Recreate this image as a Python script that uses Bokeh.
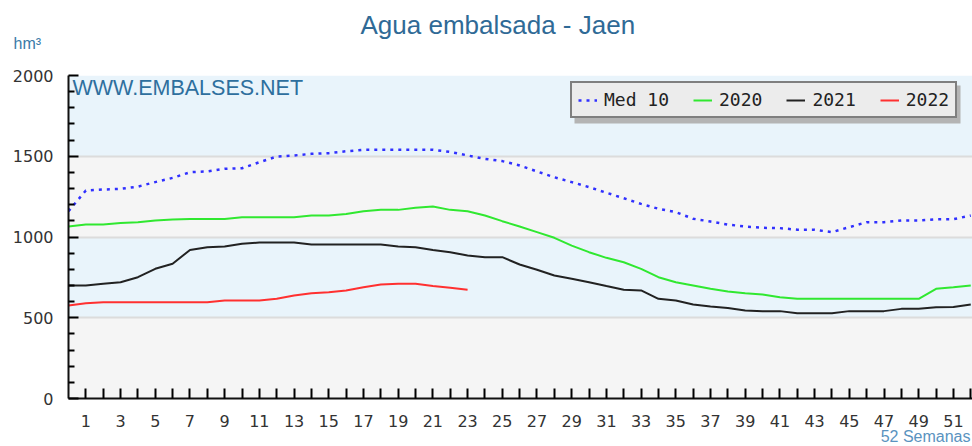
from bokeh.plotting import figure
from bokeh.models import (FixedTicker, BoxAnnotation, Label, Legend, LegendItem, Range1d, Title)
from bokeh.embed import file_html
from bokeh.resources import INLINE

# ---- data ----
weeks = list(range(0, 53))
med10 = [1160, 1288, 1294, 1298, 1312, 1340, 1366, 1401, 1406, 1422, 1426, 1463, 1498,
         1505, 1515, 1519, 1531, 1540, 1540, 1540, 1540, 1540, 1527, 1505, 1484, 1470,
         1443, 1406, 1370, 1340, 1309, 1274, 1240, 1205, 1175, 1154, 1113, 1096, 1077,
         1065, 1057, 1055, 1045, 1045, 1030, 1061, 1092, 1092, 1102, 1102, 1110, 1110, 1133]
y2020 = [1065, 1077, 1077, 1086, 1092, 1102, 1108, 1112, 1112, 1112, 1123, 1123, 1123,
         1123, 1133, 1133, 1143, 1160, 1168, 1168, 1181, 1189, 1168, 1160, 1133, 1098,
         1065, 1030, 995, 947, 906, 871, 844, 803, 751, 720, 700, 679, 663, 652, 644,
         627, 617, 617, 617, 617, 617, 617, 617, 617, 679, 689, 700]
y2021 = [700, 700, 710, 720, 751, 803, 834, 920, 937, 941, 958, 966, 966, 966, 954, 954,
         954, 954, 954, 941, 937, 920, 906, 885, 875, 875, 830, 797, 762, 741, 720, 696,
         673, 669, 617, 607, 582, 570, 561, 545, 541, 541, 528, 528, 528, 541, 541, 541,
         555, 555, 565, 566, 582]
weeks2022 = list(range(0, 24))
y2022 = [576, 590, 596, 596, 596, 596, 596, 596, 596, 607, 607, 607, 617, 638, 652, 658,
         669, 689, 706, 710, 710, 696, 686, 673]

series_names = ["Med 10", "2020", "2021", "2022"]
y_major = [0, 500, 1000, 1500, 2000]
y_minor = [v for v in range(100, 2000, 100) if v % 500 != 0]
x_ticks = list(range(1, 53))
bands = [(0, 500, "#f5f5f5"), (500, 1000, "#e9f4fb"), (1000, 1500, "#f5f5f5"), (1500, 2000, "#e9f4fb")]

p = figure(width=972, height=446, output_backend="svg", toolbar_location=None,
           x_range=Range1d(0, 52.1), y_range=Range1d(0, 2000),
           min_border_left=68, min_border_right=0, min_border_top=75, min_border_bottom=48)
p.outline_line_color = None
p.background_fill_color = "white"
p.border_fill_color = "white"

for b0, b1, col in bands:
    p.add_layout(BoxAnnotation(bottom=b0, top=b1, fill_color=col, fill_alpha=1,
                               line_color=None, level="image"))

p.xgrid.visible = False
p.ygrid.ticker = FixedTicker(ticks=[500, 1000, 1500])
p.ygrid.grid_line_color = "#dcdcdc"
p.ygrid.grid_line_width = 2

# axes
p.yaxis.ticker = FixedTicker(ticks=y_major, minor_ticks=y_minor)
p.yaxis.major_tick_in = 10
p.yaxis.major_tick_out = 0
p.yaxis.minor_tick_in = 6
p.yaxis.minor_tick_out = 0
p.yaxis.axis_line_width = 2
p.yaxis.axis_line_color = "#111111"
p.yaxis.major_tick_line_width = 2
p.yaxis.minor_tick_line_width = 2
p.yaxis.major_label_standoff = 15
p.yaxis.major_label_text_font = "DejaVu Sans"
p.yaxis.major_label_text_font_size = "16px"
p.yaxis.major_label_text_color = "#333333"

p.xaxis.ticker = FixedTicker(ticks=x_ticks)
p.xaxis.major_label_overrides = {w: (str(w) if w % 2 == 1 else "") for w in x_ticks}
p.xaxis.major_tick_in = 10
p.xaxis.major_tick_out = 0
p.xaxis.minor_tick_line_color = None
p.xaxis.axis_line_width = 2
p.xaxis.axis_line_color = "#111111"
p.xaxis.major_tick_line_width = 2
p.xaxis.major_label_standoff = 16
p.xaxis.major_label_text_font = "DejaVu Sans"
p.xaxis.major_label_text_font_size = "16px"
p.xaxis.major_label_text_color = "#333333"

# lines
r0 = p.line(weeks, med10, line_color="#3030ff", line_width=2.5, line_dash="3 5")
r1 = p.line(weeks, y2020, line_color="#30e830", line_width=2)
r2 = p.line(weeks, y2021, line_color="#222222", line_width=2)
r3 = p.line(weeks2022, y2022, line_color="#ff3030", line_width=2)

# titles / texts
hm_title = Title(text="hm³", align="left", offset=-55, standoff=43, vertical_align="top",
                 text_font="Liberation Sans", text_font_size="16px",
                 text_font_style="normal", text_color="#3a7aa8")
p.add_layout(hm_title, "above")
p.title.text = "Agua embalsada - Jaen"
p.title.align = "left"
p.title.offset = 292
p.title.standoff = -52
p.title.vertical_align = "bottom"
p.title.text_font = "Liberation Sans"
p.title.text_font_size = "26px"
p.title.text_font_style = "normal"
p.title.text_color = "#2f6a96"

sem_title = Title(text="52 Semanas", align="right", offset=2, standoff=-7, vertical_align="bottom",
                  text_font="Liberation Sans", text_font_size="16px",
                  text_font_style="normal", text_color="#5a93c0")
p.add_layout(sem_title, "below")

p.add_layout(Label(x=4, y=311, x_units="screen", y_units="screen",
                   text="WWW.EMBALSES.NET", text_align="left", text_baseline="middle",
                   text_font="Liberation Sans", text_font_size="21.5px", text_color="#2e6f9e"))

# legend shadow
p.add_layout(BoxAnnotation(left=506, right=892, bottom=275, top=313,
                           left_units="screen", right_units="screen",
                           bottom_units="screen", top_units="screen",
                           fill_color="#b4b4b4", fill_alpha=1, line_color=None))

legend = Legend(items=[LegendItem(label=n, renderers=[r]) for n, r in
                       zip(series_names, [r0, r1, r2, r3])],
                orientation="horizontal", location=(502, 280),
                glyph_width=19, glyph_height=18, label_height=18, label_standoff=7,
                spacing=24, padding=6, margin=0,
                label_text_font="DejaVu Sans Mono", label_text_font_size="18px",
                label_text_color="#222222",
                border_line_color="#111111", border_line_width=2,
                background_fill_color="#ececec", background_fill_alpha=1)
p.add_layout(legend)

open("out.html", "w").write(file_html(p, INLINE))
